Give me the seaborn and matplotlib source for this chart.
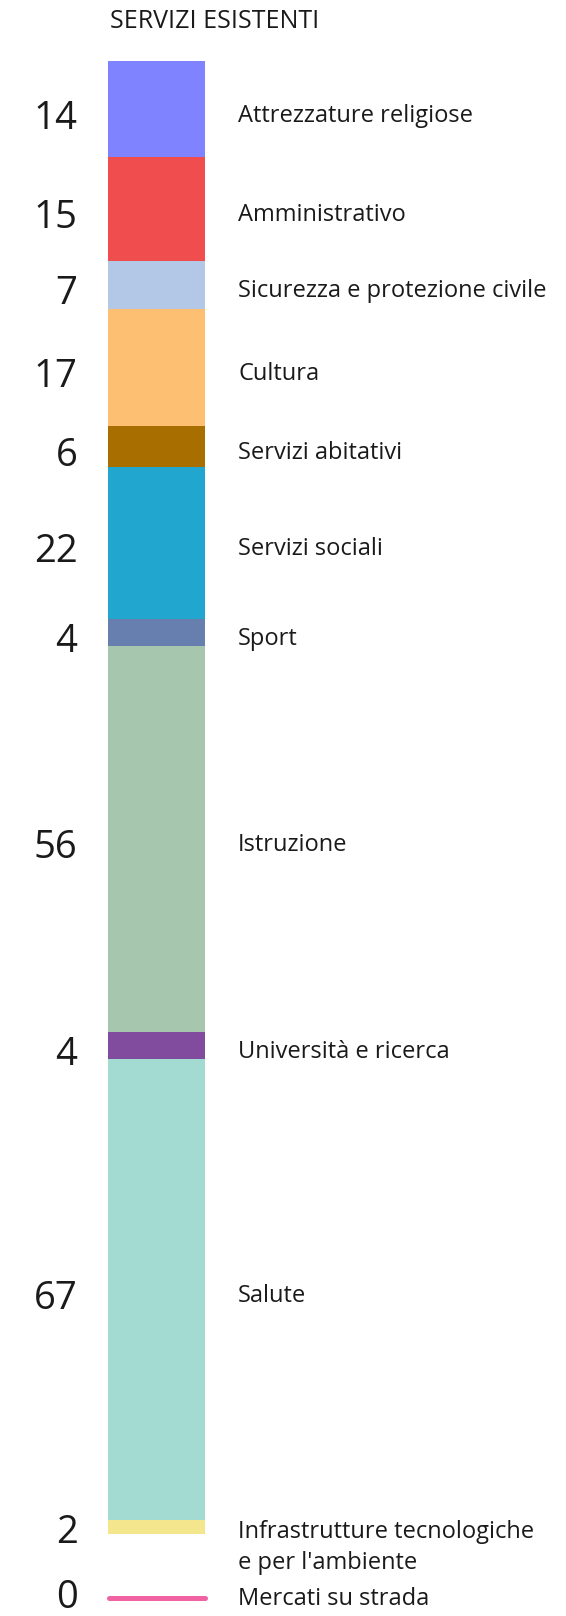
import matplotlib
matplotlib.use("Agg")
import matplotlib.pyplot as plt
import seaborn as sns
import numpy as np

categories = ["Attrezzature religiose", "Amministrativo", "Sicurezza e protezione civile",
              "Cultura", "Servizi abitativi", "Servizi sociali", "Sport", "Istruzione",
              "Università e ricerca", "Salute", "Infrastrutture tecnologiche\ne per l'ambiente",
              "Mercati su strada"]
values = [14, 15, 7, 17, 6, 22, 4, 56, 4, 67, 2, 0]
colors = ["#7f83ff", "#f04e4e", "#b3c7e6", "#fdbf72", "#a86f00", "#21a7cf",
          "#677fae", "#a6c6ad", "#814c9d", "#a3dbd3", "#f3e68d", "#f062a1"]
title = "SERVIZI ESISTENTI"

sns.set_theme(style="white")
plt.rcParams['font.family'] = ['Open Sans', 'DejaVu Sans']

W, H = 566, 1616
fig = plt.figure(figsize=(W / 100, H / 100), dpi=100)
ax = fig.add_axes([0, 0, 1, 1])

top_px, bot_px = 61, 1534
total = sum(values)
px_per_unit = (bot_px - top_px) / total
ax.set_xlim(0, W)
ax.set_ylim(total + (H - bot_px) / px_per_unit, -top_px / px_per_unit)
ax.axis("off")

PT = 72 / 100  # points per pixel
bar_x, bar_w = 156.5, 97
label_x, num_x = 238, 77.5
lab_fs, num_fs = 17, 27.5
txt_c = "#1a1a1a"

bottoms = np.concatenate([[0], np.cumsum(values)[:-1]])
for cat, v, b, c in zip(categories, values, bottoms, colors):
    if v > 0:
        ax.bar(bar_x, v, bottom=b, width=bar_w, color=c, edgecolor="none", linewidth=0)
        yc = b + v / 2
        if "\n" in cat:
            ax.annotate(cat, xy=(label_x, yc), xytext=(0, 7 * PT), textcoords="offset points",
                        ha="left", va="top", fontsize=lab_fs, color=txt_c, linespacing=1.36)
            noff = -1
        else:
            ax.annotate(cat, xy=(label_x, yc), xytext=(0, -3.5 * PT), textcoords="offset points",
                        ha="left", va="center_baseline", fontsize=lab_fs, color=txt_c)
            noff = -5
        ax.annotate(str(v), xy=(num_x, yc), xytext=(0, noff * PT), textcoords="offset points",
                    ha="right", va="center_baseline", fontsize=num_fs, color=txt_c,
                    fontweight="normal")
    else:
        yz = b + 63.7 / px_per_unit
        ax.plot([bar_x - bar_w / 2 + 0.5, bar_x + bar_w / 2 - 0.5], [yz, yz], color=c,
                linewidth=5 * PT, solid_capstyle="round")
        ax.annotate(cat, xy=(label_x, yz), xytext=(0, 2 * PT), textcoords="offset points",
                    ha="left", va="center_baseline", fontsize=lab_fs, color=txt_c)
        ax.annotate(str(v), xy=(num_x, yz), xytext=(0, 4 * PT), textcoords="offset points",
                    ha="right", va="center_baseline", fontsize=num_fs, color=txt_c,
                    fontweight="normal")

fig.text(110 / W, 1 - 28.3 / H, title, ha="left", va="baseline", fontsize=18, color=txt_c)

fig.savefig("out.png", dpi=100, facecolor="white")
